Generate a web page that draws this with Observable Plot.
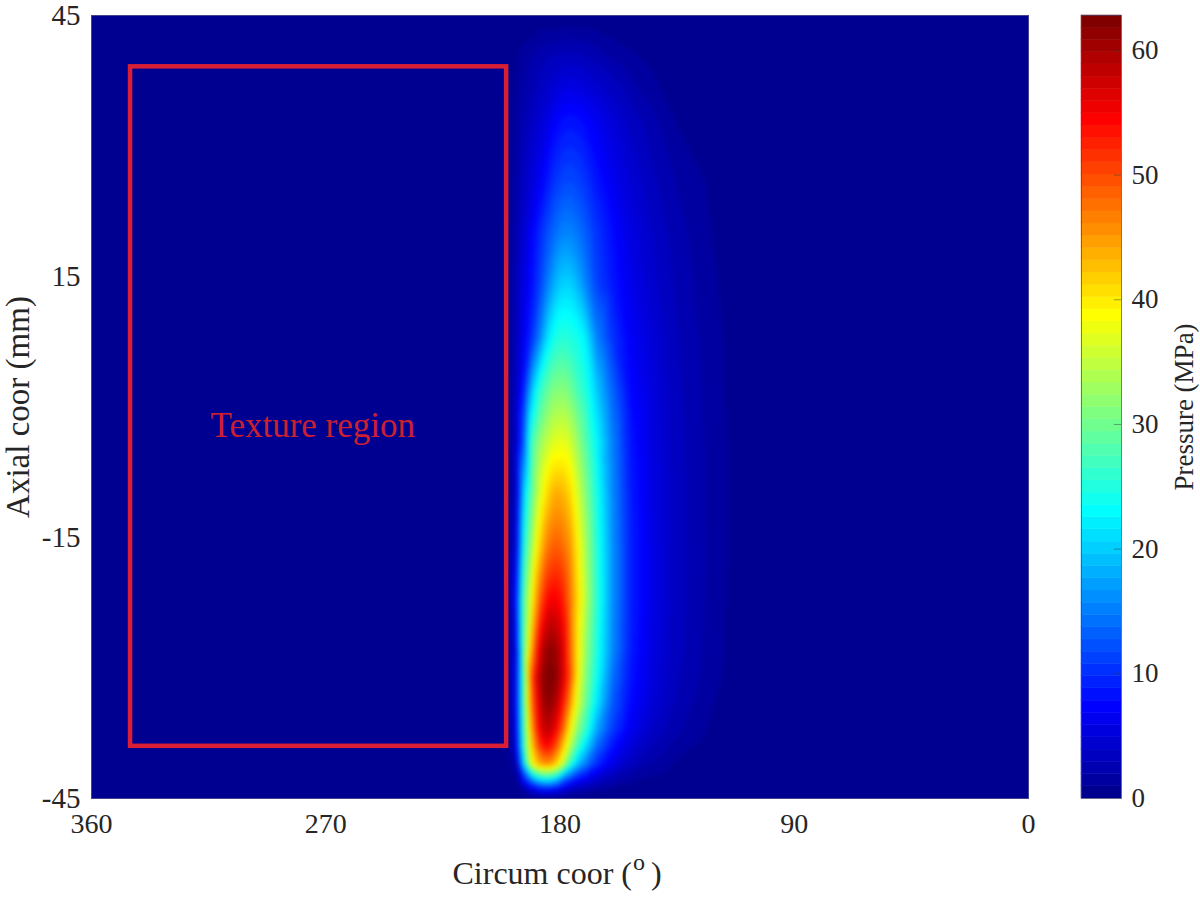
<!DOCTYPE html>
<html>
<head>
<meta charset="utf-8">
<script src="https://cdn.jsdelivr.net/npm/d3@7"></script>
<script src="https://cdn.jsdelivr.net/npm/@observablehq/plot@0.6"></script>
<style>
html,body{margin:0;padding:0;background:#fff;overflow:hidden}
#w{position:relative;width:1200px;height:897px}
#w svg{position:absolute;top:0;background:transparent}
</style>
</head>
<body>
<div id="w"></div>
<script>
const circumCoor = [360,205,200,197,194,191,188,185,182,179,176,173,170,166,160,153,145,135,122,112,100,0];
const axialCoor = [45,40,33,26,20,14,8,2,-4,-10,-16,-22,-28,-31,-34,-37,-39,-41,-43,-44,-45];
const pressureRows = [
[0,0,0,0,0,0,0,0,0,0,0,0,0,0,0,0,0,0,0,0,0,0],
[0,0,.2,.8,1.5,2,2.5,3,3.2,3.4,3.5,3.4,3.2,2.7,2,1.3,.7,.2,0,0,0,0],
[0,0,.5,1.5,2.5,3.5,4.5,5.5,7,8,8.3,8,7.5,6.5,5,3.6,2.4,.9,.2,0,0,0],
[0,0,.6,2,3.5,5,6.5,8.5,10.5,11.5,11.8,11.3,10.3,8.5,6.5,4.8,3.3,1.9,.8,.2,0,0],
[0,0,.6,2.5,4.5,7,9.5,12,14,15.5,15.5,14.5,13,10.5,8,5.6,4,2.4,1,.3,0,0],
[0,0,.8,2.8,5.5,8,11,15,18.5,20.5,20.5,18.5,15.5,11.5,8.8,6.2,4.4,2.7,1.2,.4,0,0],
[0,0,.8,3,6.5,10,15,21,24.5,25.5,25,24,22,15.5,10.5,7,5,3,1.4,.5,0,0],
[0,0,.8,3.5,9,19,25.5,29,31,31.5,30,27,25,20,13.5,7.7,5.4,3.2,1.5,.5,0,0],
[0,0,.6,3.5,13,27,32,35,37,37.5,36,32,28,23,15.5,8.5,5.6,3.3,1.6,.6,0,0],
[0,0,.5,3.5,20,29,36,41,44,43.5,41,36,31,24.5,16,9,5.8,3.4,1.6,.6,0,0],
[0,0,.4,5,24,33,41,47,49,48,45,39,33,25.5,16.5,9.3,6,3.4,1.7,.6,0,0],
[0,0,.3,8,28,38,48,54,55,53,47,40.5,34,26,16.5,9.3,6,3.4,1.6,.5,0,0],
[0,0,.2,6,29,44,56,61.5,61,57,48,39,32,25,16,9,5.7,3.3,1.5,.5,0,0],
[0,0,.2,7,28,49,59,62.8,62,57.5,49,38.5,31,24,14.5,8.5,5.4,3.1,1.4,.4,0,0],
[0,0,.2,7,28,47,57,62,60,54,45,36,29.5,22,13,7.8,5,2.8,1.1,.2,0,0],
[0,0,.2,6,27,44,55,59,56,49,39,31,26,18,11,6.5,4,2.2,.8,.1,0,0],
[0,0,.1,5,26,41,51,54.5,51,43,34,26.5,21,14,8.5,5,3,1.5,.4,0,0,0],
[0,0,0,2,21,38,44,46,43,36,26,19,15,10,6,3.4,1.9,.8,.1,0,0,0],
[0,0,0,.5,7,14,19,20.5,18.5,13,9.5,7,5.5,3.8,2.4,1.2,.6,.2,0,0,0,0],
[0,0,0,0,2,5,7.5,8,7,5,3.5,2.5,2,1.3,.8,.4,.2,0,0,0,0,0],
[0,0,0,0,0,0,0,0,0,0,0,0,0,0,0,0,0,0,0,0,0,0]
];
const xTicks = [360,270,180,90,0];
const yTicks = [45,15,-15,-45];
const barTicks = [0,10,20,30,40,50,60];
const pressureMax = 62.8;
const jetPositions = [0,7/63,23/63,39/63,55/63,1];
const jetColors = ["#000090","#0000ff","#00ffff","#ffff00","#ff0000","#800000"];
const textureBox = [{x1:345,x2:200.5,y1:-39,y2:39.1}];
const nLevels = 64;

const jet = d3.scaleLinear().domain(jetPositions).range(jetColors);
const levels = d3.range(nLevels).map(i => i * pressureMax / nLevels);
const palette = d3.range(nLevels).map(i => jet(i / (nLevels - 1)));
const colorScale = {type:"threshold", domain: levels.slice(1), range: palette};
const cells = axialCoor.flatMap((a, r) => circumCoor.map((c, k) => ({c, a, p: pressureRows[r][k]})));
const font = "'Liberation Serif', serif";
const ink = "#262626";

const main = Plot.plot({
  width:1040, height:897, marginLeft:91, marginRight:12, marginTop:15, marginBottom:99,
  style:{fontFamily:font, fontSize:"27px", color:ink, background:"transparent"},
  x:{domain:[360,0], range:[91,1028]},
  y:{domain:[-45,45], range:[798,15]},
  color:colorScale,
  marks:[
    Plot.raster(cells,{x:"c",y:"a",fill:"p",interpolate:"barycentric",pixelSize:1,blur:2}),
    Plot.frame({stroke:"#44448c",strokeWidth:1}),
    Plot.rect(textureBox,{x1:"x1",x2:"x2",y1:"y1",y2:"y2",fill:"none",stroke:"#d81f35",strokeWidth:4.5}),
    Plot.text(["Texture region"],{x:275,y:-2.2,text:d=>d,fill:"#cc2030",fontSize:35}),
    Plot.axisX({ticks:xTicks,tickSize:0,tickPadding:15,label:null,fontSize:28,tickFormat:d=>String(d)}),
    Plot.axisY({ticks:yTicks,tickSize:0,tickPadding:11,label:null,fontSize:29,tickFormat:d=>String(d)}),
    Plot.text(["Circum coor ("],{frameAnchor:"bottom",textAnchor:"end",dx:72,dy:85,text:d=>d,fontSize:32,fill:ink}),
    Plot.text(["o"],{frameAnchor:"bottom",textAnchor:"start",dx:73,dy:71,text:d=>d,fontSize:24,fill:ink}),
    Plot.text([")"],{frameAnchor:"bottom",textAnchor:"start",dx:91,dy:85,text:d=>d,fontSize:32,fill:ink}),
    Plot.text(["Axial coor (mm)"],{frameAnchor:"left",textAnchor:"middle",rotate:-90,dx:-73,text:d=>d,fontSize:33,fill:ink})
  ]
});
main.style.left = "0px";
document.getElementById("w").appendChild(main);

const bar = Plot.plot({
  width:120, height:897, marginLeft:1, marginRight:79, marginTop:15, marginBottom:99,
  style:{fontFamily:font, fontSize:"27px", color:ink, background:"transparent"},
  x:{domain:[0,1], axis:null},
  y:{domain:[0,pressureMax], range:[798,15]},
  color:colorScale,
  marks:[
    Plot.rect(levels,{x1:0,x2:1,y1:d=>d,y2:d=>d+pressureMax/nLevels,fill:d=>d,stroke:d=>d,strokeWidth:.5}),
    Plot.ruleY(barTicks.slice(1),{x1:.82,x2:1,stroke:"#333",strokeOpacity:.45}),
    Plot.frame({stroke:"#44446c",strokeOpacity:.7}),
    Plot.axisY({anchor:"right",ticks:barTicks,tickSize:0,tickPadding:10,label:null,fontSize:27,tickFormat:d=>String(d)}),
    Plot.text(["Pressure (MPa)"],{frameAnchor:"right",textAnchor:"middle",rotate:-90,dx:63,text:d=>d,fontSize:27,fill:ink})
  ]
});
bar.style.left = "1080px";
document.getElementById("w").appendChild(bar);
</script>
</body>
</html>
